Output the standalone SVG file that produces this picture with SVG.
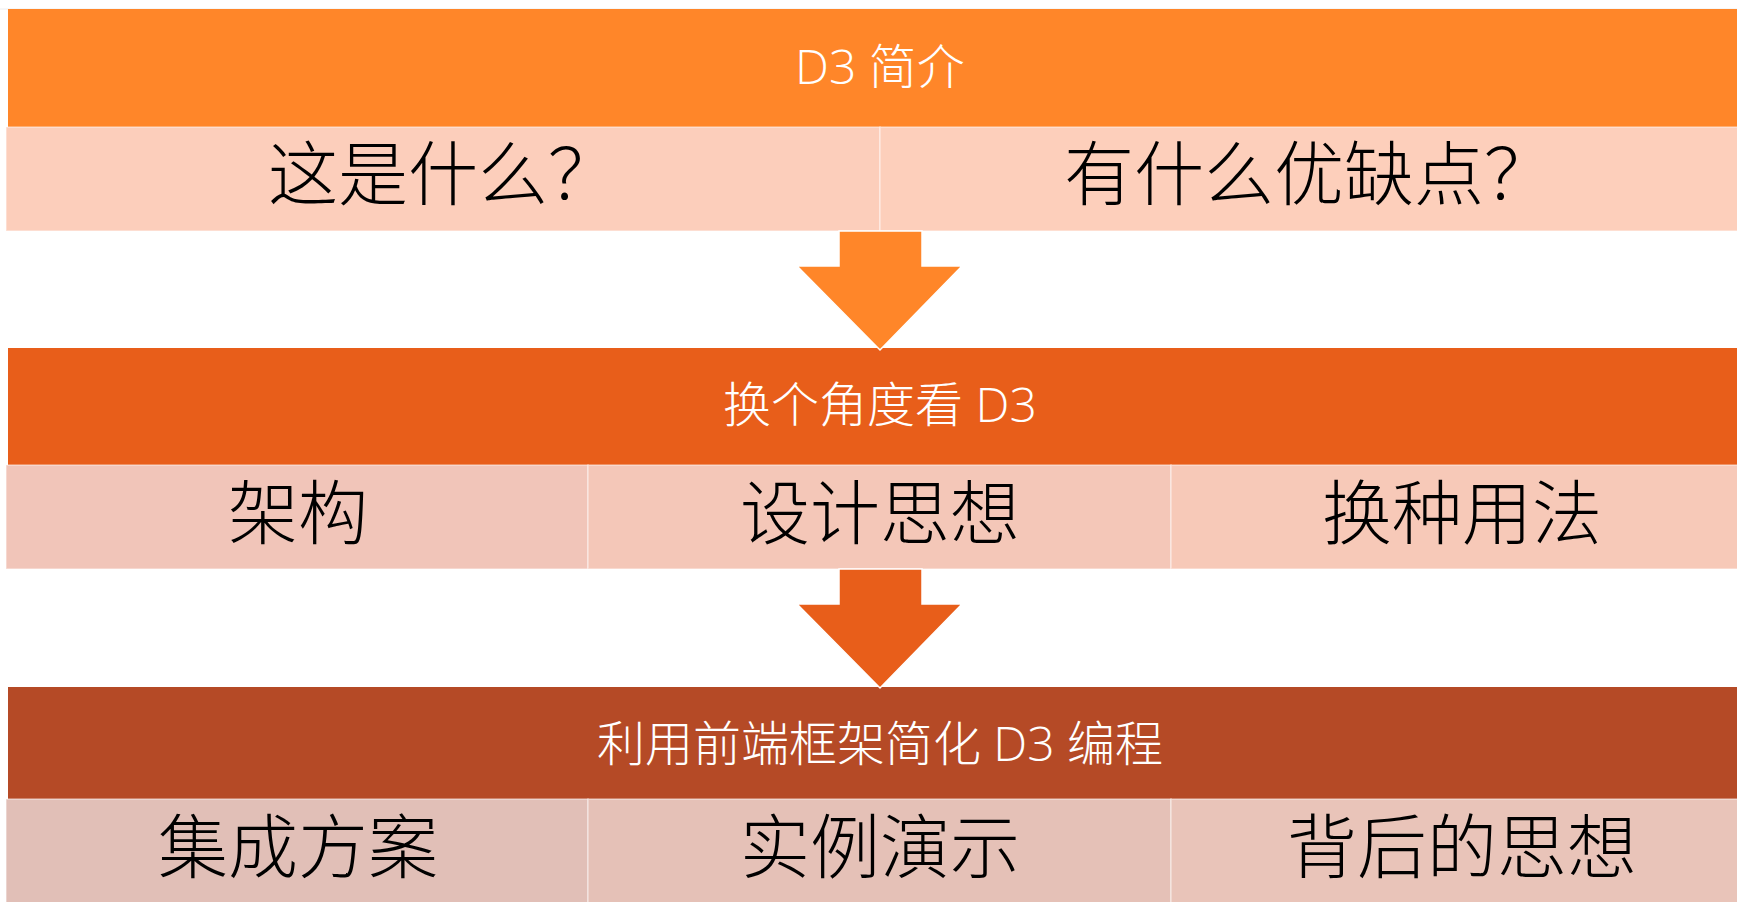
<svg xmlns="http://www.w3.org/2000/svg" width="1737" height="902" viewBox="0 0 1737 902">
<defs>
<style>
.hd{font-family:"Open Sans","Noto Sans CJK SC",sans-serif;font-size:48px;font-weight:300;fill:#ffffff;text-anchor:middle;dominant-baseline:central}
.it{font-family:"Liberation Serif","Noto Sans CJK SC",serif;font-size:70px;font-weight:300;fill:#000000;text-anchor:middle;dominant-baseline:central}
.cell{stroke:#ffffff;stroke-opacity:0.45;stroke-width:1.5}
.arrow{stroke:#ffffff;stroke-width:1.5;stroke-linejoin:miter}
</style>
</defs>
<rect x="0" y="0" width="1737" height="902" fill="#ffffff"/>
<line x1="0" y1="9" x2="1737" y2="9" stroke="#eeeeee" stroke-width="1"/>

<g id="header1">
<rect x="8" y="9" width="1729" height="118" fill="#FF8629"/>
<text class="hd" x="880" y="65">D3 简介</text>
</g>
<g id="item-what">
<rect class="cell" x="6" y="127" width="874" height="104" fill="#FCCEBB"/>
<text class="it" x="443" y="176">这是什么？</text>
</g>
<g id="item-proscons">
<rect class="cell" x="880" y="127" width="870" height="104" fill="#FDCFBB"/>
<text class="it" x="1309" y="176">有什么优缺点？</text>
</g>

<g id="header2">
<rect x="8" y="348" width="1729" height="117" fill="#E85E1A"/>
<text class="hd" x="880" y="403">换个角度看 D3</text>
</g>
<g id="item-arch">
<rect class="cell" x="6" y="465" width="582" height="104" fill="#F1C5B9"/>
<text class="it" x="298" y="515">架构</text>
</g>
<g id="item-design">
<rect class="cell" x="588" y="465" width="583" height="104" fill="#F4C7B8"/>
<text class="it" x="880" y="515">设计思想</text>
</g>
<g id="item-usage">
<rect class="cell" x="1171" y="465" width="600" height="104" fill="#F7C9B8"/>
<text class="it" x="1462" y="515">换种用法</text>
</g>

<g id="header3">
<rect x="8" y="687" width="1729" height="112" fill="#B54A26"/>
<text class="hd" x="880" y="742">利用前端框架简化 D3 编程</text>
</g>
<g id="item-integration">
<rect class="cell" x="6" y="799" width="582" height="110" fill="#E1BFB7"/>
<text class="it" x="298" y="849">集成方案</text>
</g>
<g id="item-demo">
<rect class="cell" x="588" y="799" width="583" height="110" fill="#E5C1B7"/>
<text class="it" x="880" y="849">实例演示</text>
</g>
<g id="item-idea">
<rect class="cell" x="1171" y="799" width="600" height="110" fill="#E9C4B9"/>
<text class="it" x="1462" y="849">背后的思想</text>
</g>

<g id="connectors">
<polygon class="arrow" fill="#FF8629" points="839,231 922,231 922,266 962,266 880,350 797,266 839,266"/>
<polygon class="arrow" fill="#E85E1A" points="839,569 922,569 922,604 962,604 880,688 797,604 839,604"/>
</g>
</svg>
